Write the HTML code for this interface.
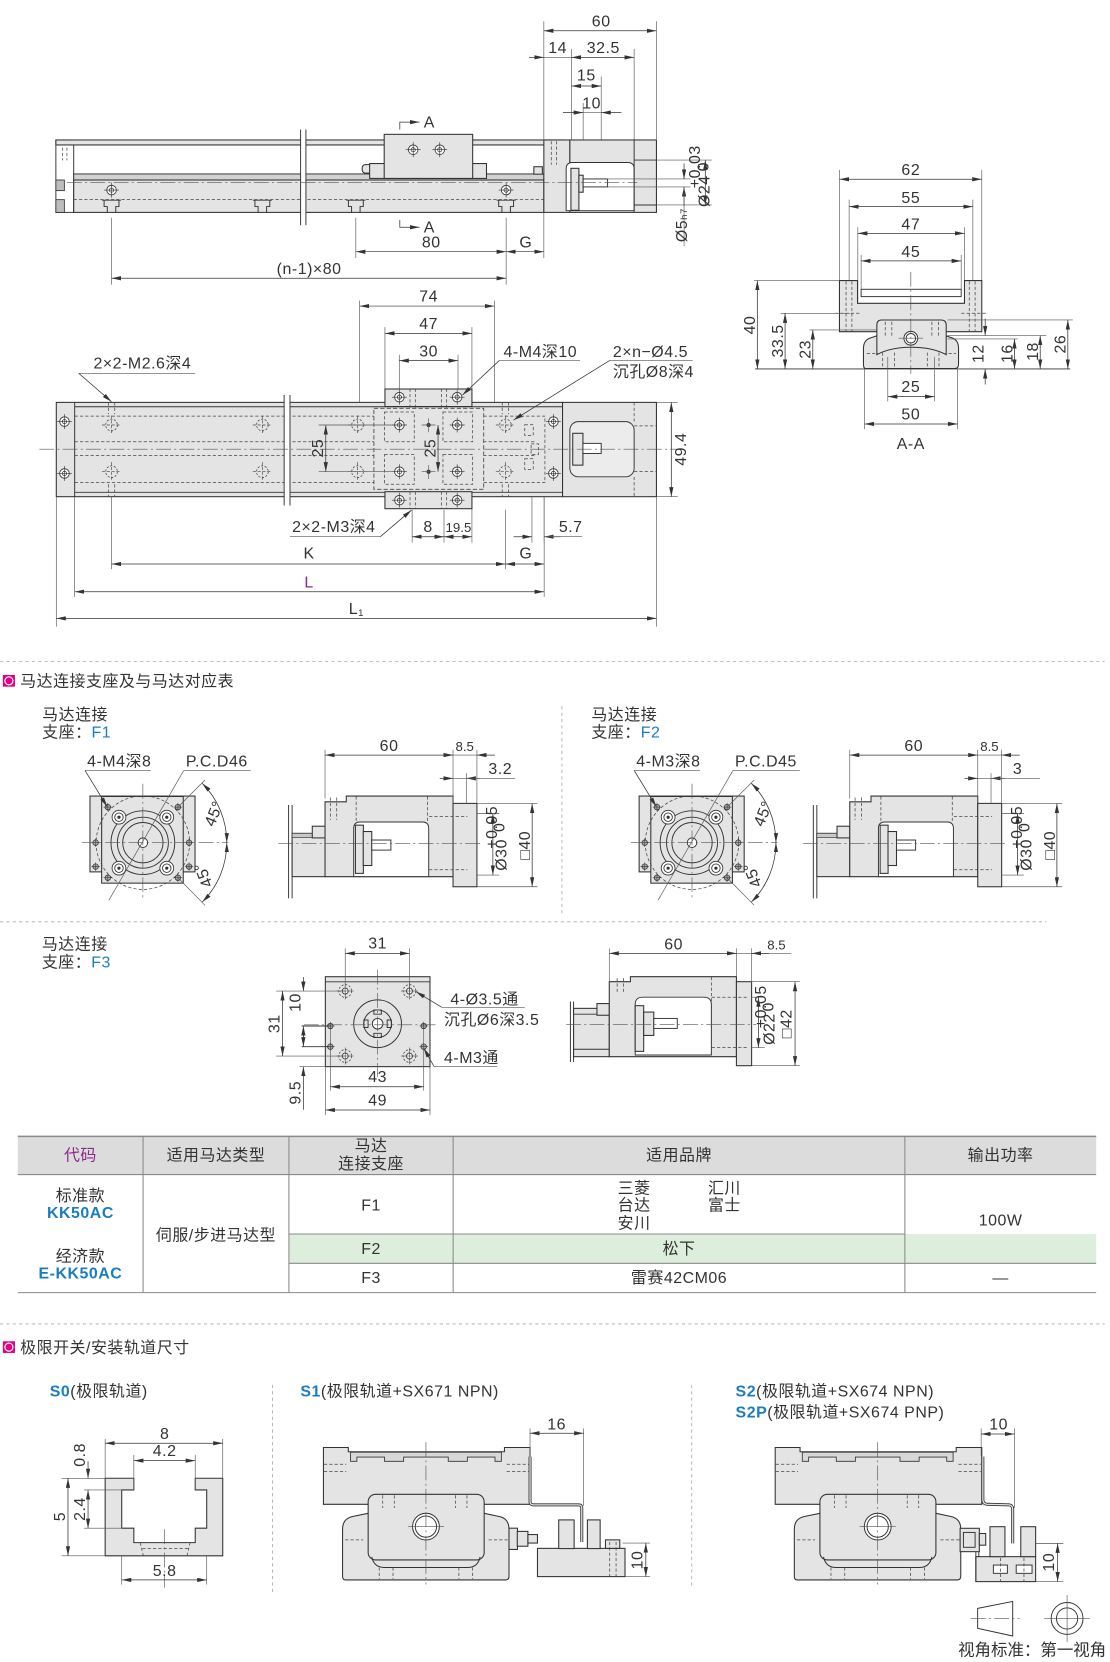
<!DOCTYPE html>
<html><head><meta charset="utf-8"><style>
html,body{margin:0;padding:0;background:#fff}
svg{display:block}
.p{fill:#e4e4e4;stroke:#333;stroke-width:1}
.w{fill:#fff;stroke:#333;stroke-width:.9}
.l{fill:none;stroke:#333;stroke-width:.9}
.e{fill:none;stroke:#555;stroke-width:.6}
.h{fill:none;stroke:#444;stroke-width:.7;stroke-dasharray:3 2}
.c{fill:none;stroke:#555;stroke-width:.6;stroke-dasharray:14 3 2 3}
.d{fill:none;stroke:#333;stroke-width:.7;marker-start:url(#a);marker-end:url(#a)}
.d1{fill:none;stroke:#333;stroke-width:.7;marker-end:url(#a)}
.sep{fill:none;stroke:#aaa;stroke-width:.8;stroke-dasharray:3 3}
text{font-family:"Liberation Sans","Noto Sans CJK SC",sans-serif;font-size:15px;letter-spacing:.5px;fill:#333}
.m{text-anchor:middle}
.s{font-size:12.5px;letter-spacing:0}
.b{fill:#1a7dc0}
</style></head><body>
<svg width="1110" height="1662" viewBox="0 0 1045 1565" preserveAspectRatio="none" xmlns="http://www.w3.org/2000/svg">
<defs>
<marker id="a" viewBox="0 0 9 4" refX="9" refY="2" markerWidth="9" markerHeight="4" markerUnits="userSpaceOnUse" orient="auto-start-reverse"><path d="M0,0L9,2L0,4z" fill="#333"/></marker>
<g id="bh"><circle r="4.5" fill="#fff" stroke="#333" stroke-width=".8"/><circle r="2" fill="none" stroke="#333" stroke-width=".7"/><path d="M-7,0H7M0,-7V7" stroke="#333" stroke-width=".6"/></g>
<g id="hh"><circle r="5.5" fill="none" stroke="#444" stroke-width=".7" stroke-dasharray="2 1.5"/><path d="M-9,0H9M0,-9V9" stroke="#444" stroke-width=".6" stroke-dasharray="3 1.5"/></g>
<g id="cb"><circle r="6" fill="none" stroke="#444" stroke-width=".7" stroke-dasharray="2 1.5"/><circle r="2.8" fill="#fff" stroke="#333" stroke-width=".8"/><path d="M-8,0H8M0,-8V8" stroke="#333" stroke-width=".5"/></g>
<g id="sh"><circle r="2.6" fill="#aaa" stroke="#333" stroke-width=".7"/><path d="M-4,0H4M0,-4V4" stroke="#333" stroke-width=".5"/></g>
<g id="cp"><circle r="6.5" fill="#fff" stroke="#333" stroke-width=".8"/><circle r="4" fill="none" stroke="#333" stroke-width=".8"/><circle r="1.5" fill="#333"/></g>
</defs>

<!-- ================= SIDE VIEW ================= -->
<path class="e" d="M512,20V131 M618,20V131 M597,46V153 M538,46V158 M566,72V168 M549,97V168"/>
<path class="d" d="M512,29H618"/><text class="m" x="566" y="25">60</text>
<path class="d1" d="M498,54H512"/><path class="e" d="M512,54H538"/><path class="d" d="M538,54H597"/>
<text class="m" x="525" y="50">14</text><text class="m" x="568" y="50">32.5</text>
<path class="d" d="M538,81H566"/><text class="m" x="552" y="76">15</text>
<path class="d1" d="M530,106H549"/><path class="d1" d="M585,106H566"/><path class="e" d="M549,106H566"/>
<text class="m" x="557" y="102">10</text>

<rect class="w" x="52.6" y="131.8" width="16.8" height="68.2"/>
<rect x="52.6" y="169.5" width="8" height="10" fill="#bdbdbd" stroke="#333" stroke-width=".8"/>
<rect x="52.6" y="188" width="8" height="12" fill="#bdbdbd" stroke="#333" stroke-width=".8"/>
<path class="h" d="M59,134V151 M63,134V151"/>
<rect class="p" x="52.6" y="131.8" width="479" height="4.7"/>
<rect x="69.4" y="163.8" width="442.6" height="5.7" fill="#d2d2d2" stroke="#333" stroke-width=".9"/>
<rect class="p" x="69.4" y="169.5" width="442.6" height="30.5"/>
<rect class="p" x="341" y="155" width="10" height="8" rx="3"/>
<rect class="p" x="348" y="154" width="110" height="14"/>
<rect class="p" x="361.7" y="126.5" width="83.3" height="41.5"/>
<rect class="p" x="502.6" y="157" width="8" height="7"/>
<use href="#bh" x="389" y="141"/><use href="#bh" x="414" y="141"/>
<path class="h" d="M69.4,188H512"/>
<use href="#bh" x="105" y="179"/><use href="#bh" x="476.5" y="179"/>
<path class="l" d="M96,188.5h18M98,188.5v6h3v5.5M112,188.5v6h-3v5.5 M238,188.5h18M240,188.5v6h3v5.5M254,188.5v6h-3v5.5 M326,188.5h18M328,188.5v6h3v5.5M342,188.5v6h-3v5.5 M467.5,188.5h18M469.5,188.5v6h3v5.5M483.5,188.5v6h-3v5.5" stroke-width=".7"/>
<rect x="283" y="124" width="5" height="82" fill="#fff"/>
<path class="l" d="M283,122V212 M288,122V212"/>
<rect class="p" x="512" y="131.8" width="24.5" height="68.2"/>
<path class="h" d="M519,133V155 M524,133V155"/>
<rect class="p" x="536.5" y="131.8" width="81.5" height="68.2"/>
<path class="w" d="M533,198.4V159Q533,153 539,153H591Q597,153 597,159V198.4Z"/>
<path class="l" d="M597,131.8V200 M597,150.7H618 M597,193H618"/>
<rect class="p" x="537.5" y="158.5" width="7.5" height="39.5"/>
<rect class="p" x="545" y="165" width="4" height="16"/>
<rect class="w" x="549" y="168.5" width="23" height="7.5"/>
<path class="c" d="M63,172H600"/>
<path class="e" d="M572,168.5H650 M572,176H650 M618,150.7H670 M618,193H670"/>
<path class="d1" d="M644,154V168.5"/><path class="d1" d="M644,194V176"/><path class="e" d="M644,176V232"/>
<text class="m" transform="translate(647,212) rotate(-90)">Ø5<tspan font-size="9">h7</tspan></text>
<path class="d" d="M664,150.7V193"/>
<text class="m" transform="translate(668,180) rotate(-90)" font-size="12.5">Ø24</text>
<text class="m" transform="translate(659,157) rotate(-90)" font-size="6.5" letter-spacing="0">+0.03</text>
<text class="m" transform="translate(667,157) rotate(-90)" font-size="6.5">0</text>
<path class="d1" d="M376.4,122V115H395"/><text x="399" y="120">A</text>
<path class="d1" d="M376.4,207V214H395"/><text x="399" y="219">A</text>
<path class="e" d="M105,205V268 M335,205V243 M476.5,205V268 M512,200V243"/>
<path class="d" d="M335,237H476.5"/><text class="m" x="406" y="233">80</text>
<path class="d" d="M476.5,237H512"/><text class="m" x="495" y="233">G</text>
<path class="d" d="M105,262H476.5"/><text class="m" x="291" y="258">(n-1)×80</text>

<!-- ================= TOP VIEW ================= -->
<path class="e" d="M338.6,283V412 M465.4,283V412 M362.4,308V366 M444.3,308V366 M375.9,334V366 M431.2,334V366"/>
<path class="d" d="M338.6,288.2H465.4"/><text class="m" x="403.5" y="284">74</text>
<path class="d" d="M362.4,313.9H444.3"/><text class="m" x="403.5" y="310">47</text>
<path class="d" d="M375.9,339.6H431.2"/><text class="m" x="403.5" y="335.5">30</text>

<rect class="p" x="53" y="378.9" width="476.6" height="88.8"/>
<path class="l" d="M70.3,383H529.6 M70.3,463.6H529.6 M70.3,378.9V467.7" stroke-width=".8"/>
<rect class="h" x="70.3" y="391.8" width="442.7" height="62.7"/>
<path class="h" d="M70.3,416H352 M70.3,429H352 M455,416H505 M455,429H505"/>
<use href="#bh" x="60.7" y="397"/><use href="#bh" x="60.7" y="445.8"/>
<use href="#bh" x="521" y="397"/><use href="#bh" x="521" y="445.8"/>
<use href="#hh" x="105" y="400.2"/><use href="#hh" x="105" y="444.2"/>
<use href="#hh" x="247" y="400.2"/><use href="#hh" x="247" y="444.2"/>
<use href="#hh" x="336.6" y="400.2"/><use href="#hh" x="336.6" y="444.2"/>
<use href="#hh" x="475.8" y="400.2"/><use href="#hh" x="475.8" y="444.2"/>
<path class="h" d="M102,378.9V390 M108,378.9V390 M102,456V467.7 M108,456V467.7 M472.8,378.9V390 M478.8,378.9V390 M472.8,456V467.7 M478.8,456V467.7"/>
<rect class="h" x="494" y="400" width="8" height="10"/><rect class="h" x="494" y="432" width="8" height="10"/><rect class="h" x="500" y="418" width="7" height="10"/>
<rect x="267.5" y="372" width="5.5" height="104" fill="#fff"/>
<path class="l" d="M267.5,372V476 M273,372V476"/>
<rect class="p" x="529.6" y="378.9" width="88.4" height="88.8"/>
<rect x="536.5" y="397" width="60.5" height="52" rx="8" fill="#ececec" stroke="#333" stroke-width=".9"/>
<path class="h" d="M597,378.9V397 M597,449V467.7 M597,401H618 M597,444H618"/>
<rect class="p" x="539.2" y="408" width="9.6" height="30"/>
<rect class="w" x="548.8" y="417.5" width="17.2" height="9.5"/>
<rect x="352" y="384.5" width="103.4" height="76.3" fill="#e4e4e4" stroke="#444" stroke-width=".8" stroke-dasharray="4 2"/>
<rect class="h" x="362" y="388" width="28" height="28"/><rect class="h" x="417" y="388" width="28" height="28"/>
<rect class="h" x="362" y="428" width="28" height="28"/><rect class="h" x="417" y="428" width="28" height="28"/>
<rect class="p" x="362.4" y="366.3" width="81.9" height="16.5"/>
<rect class="p" x="362.4" y="463" width="81.9" height="16"/>
<path class="h" d="M386,366V384 M391,366V384 M415.5,366V384 M420.5,366V384 M386,463V479 M391,463V479 M415.5,463V479 M420.5,463V479"/>
<use href="#bh" x="376" y="374"/><use href="#bh" x="430.4" y="374"/>
<use href="#bh" x="376" y="471"/><use href="#bh" x="430.4" y="471"/>
<use href="#bh" x="376" y="400.2"/><use href="#bh" x="430.4" y="400.2"/>
<use href="#bh" x="376" y="444.2"/><use href="#bh" x="430.4" y="444.2"/>
<circle cx="403.5" cy="400.2" r="2" fill="#333"/><circle cx="403.5" cy="444.2" r="2" fill="#333"/>
<path class="e" d="M397,400.2H410M403.5,394V407 M397,444.2H410M403.5,438V451"/>
<path class="c" d="M37,423H640"/>
<path class="e" d="M300,400.2H370 M300,444.2H370"/>
<path class="d" d="M306.7,400.2V444.2"/><text class="m" transform="translate(304,422) rotate(-90)">25</text>
<path class="d" d="M412.4,400.2V444.2"/><text class="m" transform="translate(410,422) rotate(-90)">25</text>
<path class="e" d="M618,378.9H638 M618,467.7H638"/>
<path class="d" d="M632,378.9V467.7"/><text class="m" transform="translate(646,423) rotate(-90)">49.4</text>
<text x="88" y="347">2×2-M2.6深4</text>
<path class="e" d="M74.2,351.6H183.7"/><path class="d1" d="M74.2,351.6L105,378.3"/>
<text x="474" y="336">4-M4深10</text>
<path class="e" d="M470,339.5H546"/><path class="d1" d="M470,339.5L435.4,372"/>
<text x="577" y="336">2×n−Ø4.5</text>
<text x="577" y="355">沉孔Ø8深4</text>
<path class="e" d="M573.8,339.5H652"/><path class="d1" d="M573.8,339.5L483.5,395.5"/>
<text x="275" y="501">2×2-M3深4</text>
<path class="e" d="M273,505.4H358"/><path class="d1" d="M358,505.4L387.4,480.3"/>
<path class="e" d="M388,480V511 M418,480V511 M444.3,479V511 M500.8,468V511 M512.3,468V511"/>
<path class="d" d="M388,505.4H418"/><text class="m" x="403" y="501">8</text>
<path class="d" d="M418,505.4H444.3"/><text class="m s" x="431.6" y="501">19.5</text>
<path class="d1" d="M483.5,505.4H500.8"/><path class="d1" d="M527.7,505.4H512.3"/><path class="e" d="M512.3,505.4H548"/>
<text class="m" x="537.3" y="501">5.7</text>
<path class="e" d="M53,468V590 M70.3,468V562 M105,468V536 M475.8,480V536 M512.3,468V562 M618,468V590"/>
<path class="d" d="M105,531.1H475.8"/><text class="m" x="291" y="526">K</text>
<path class="d" d="M475.8,531.1H512.3"/><text class="m" x="495" y="526">G</text>
<path class="d" d="M70.3,557.2H512.3"/><text class="m" x="291" y="553" style="fill:#8b2a8b">L</text>
<path class="d" d="M53,582.3H618"/><text class="m" x="335.5" y="578">L<tspan font-size="9" dy="2">1</tspan></text>

<!-- ================= A-A VIEW ================= -->
<path class="e" d="M790.3,160V264 M924.3,160V264 M799.4,188V264 M915.9,188V264 M807.6,214V286 M908,214V286 M810.7,240V273 M904.9,240V273"/>
<path class="d" d="M790.3,168.8H924.3"/><text class="m" x="857.5" y="165">62</text>
<path class="d" d="M799.4,194.6H915.9"/><text class="m" x="857.5" y="191">55</text>
<path class="d" d="M807.6,219.7H908"/><text class="m" x="857.5" y="216">47</text>
<path class="d" d="M810.7,245.7H904.9"/><text class="m" x="857.5" y="242">45</text>
<path class="p" d="M790.3,264.2H807.3V285.6H908V264.2H924.3V312.3H790.3Z"/>
<rect class="w" x="810.7" y="272.4" width="94.2" height="6.9"/>
<path class="h" d="M796.5,265V312 M802,265V312 M912.5,265V312 M918,265V312 M786,295H810 M905,295H929"/>
<path class="p" d="M815,347Q812.9,347 812.9,343V328Q812.9,320 820,318L828,315.4H888L896,318Q902.4,320 902.4,328V343Q902.4,347 899,347Z"/>
<path class="p" d="M825.5,334V306Q825.5,301.3 830,301.3H886Q890.8,301.3 890.8,306V334Q878,327 858,327Q838,327 825.5,334Z"/>
<path class="h" d="M833.4,303V316 M839.6,303V316 M877.3,303V316 M883.6,303V316 M831,332V347 M842,332V347 M873,332V347 M884,332V347 M816,333H828 M888,333H900"/>
<circle class="w" cx="857.5" cy="318.5" r="6.5"/><circle class="l" cx="857.5" cy="318.5" r="4.5"/>
<path class="e" d="M846,318.5H869"/>
<path class="c" d="M857.5,256V352"/>
<path class="l" d="M710.9,347.4H1007.5" stroke-width=".7"/>
<path class="e" d="M710,264.2H790.3 M735,295H800 M762,310.7H825"/>
<path class="d" d="M713,264.2V347.4"/><text class="m" transform="translate(711,306) rotate(-90)">40</text>
<path class="d" d="M739.1,295V347.4"/><text class="m" transform="translate(737,321) rotate(-90)">33.5</text>
<path class="d" d="M765.2,310.7V347.4"/><text class="m" transform="translate(763,329) rotate(-90)">23</text>
<path class="e" d="M892,301.3H1010 M892,316H985 M892,319.2H958"/>
<path class="d1" d="M927.5,300V316"/><path class="d1" d="M927.5,362V347.4"/>
<text class="m" transform="translate(926,333) rotate(-90)">12</text>
<path class="d" d="M955.1,319.2V347.4"/><text class="m" transform="translate(953,333) rotate(-90)">16</text>
<path class="d" d="M979.3,316V347.4"/><text class="m" transform="translate(977,331) rotate(-90)">18</text>
<path class="d" d="M1005.3,301.3V347.4"/><text class="m" transform="translate(1003,324) rotate(-90)">26</text>
<path class="e" d="M835.8,336V378 M879.8,336V378 M813.9,347V404 M901.5,347V404"/>
<path class="d" d="M835.8,373.5H879.8"/><text class="m" x="857.5" y="369">25</text>
<path class="d" d="M813.9,399.2H901.5"/><text class="m" x="857.5" y="395">50</text>
<text class="m" x="857.5" y="423">A-A</text>

<!-- ================= SECTION HEADER 1 ================= -->
<path class="sep" d="M0,623H1040"/>
<rect x="2.7" y="635.6" width="11.4" height="11" fill="#e4007f"/><circle cx="8.4" cy="641.1" r="3.8" fill="none" stroke="#fff" stroke-width="1.1"/>
<text x="19" y="646.5">马达连接支座及与马达对应表</text>

<!-- F1 labels -->
<text x="39.7" y="678">马达连接</text>
<text x="39.7" y="694.5">支座：<tspan class="b">F1</tspan></text>
<!-- F1 front -->
<g id="ff">
<rect class="p" x="84.7" y="749.6" width="98.9" height="71.4"/>
<rect class="p" x="95.7" y="750" width="76.8" height="81.6"/>
<circle class="h" cx="134.5" cy="793.5" r="44"/>
<circle class="l" cx="134.5" cy="793.5" r="30" stroke-width=".7"/>
<circle class="l" cx="134.5" cy="793.5" r="24"/>
<circle class="l" cx="134.5" cy="793.5" r="19"/>
<circle class="w" cx="134.5" cy="793.5" r="4.5"/>
<use href="#cp" x="112" y="769.5"/><use href="#cp" x="157" y="769.5"/>
<use href="#cp" x="112" y="817.5"/><use href="#cp" x="157" y="817.5"/>
<use href="#sh" x="101.5" y="760"/><use href="#sh" x="167.5" y="760"/>
<use href="#sh" x="101.5" y="826.5"/><use href="#sh" x="167.5" y="826.5"/>
<use href="#sh" x="90" y="793.5"/><use href="#sh" x="178" y="793.5"/>
<use href="#sh" x="90" y="816"/><use href="#sh" x="178" y="816"/>
<path class="c" d="M77,793.5H215 M134.5,738V848"/>
<path class="d" d="M190.4,737.6A79,79 0 0 1 213.5,793.5"/>
<path class="d" d="M213.5,793.5A79,79 0 0 1 190.4,849.4"/>
<path class="e" d="M167.5,760L193,734.5 M167.5,826.5L193,852.5"/>
<path class="e" d="M173,725.5L102.6,847.5"/>
<path class="d1" d="M80,725.5L100.9,759.6"/>
</g>
<path class="e" d="M80,725.5H142 M173,725.5H236"/>
<text x="82" y="722">4-M4深8</text>
<text x="175" y="722">P.C.D46</text>
<text class="m" transform="translate(206,768) rotate(-68)">45°</text>
<text class="m" transform="translate(196,822) rotate(-112)">45°</text>
<!-- F1 side -->
<g id="fs">
<path class="l" d="M271.7,758V846 M275,758V846"/>
<rect class="p" x="275" y="784.7" width="31" height="40.8"/>
<rect x="275" y="784.7" width="31" height="4" fill="#c8c8c8" stroke="#333" stroke-width=".6"/>
<rect class="p" x="294" y="778" width="12" height="11"/>
<path class="p" d="M306,755H326V749.6H426.5V825.5H306Z"/>
<path class="w" d="M333,825.5V780Q333,774 339,774H397.6Q403.6,774 403.6,780V825.5Z"/>
<rect class="p" x="334.6" y="777" width="7.5" height="45.4"/>
<rect class="p" x="342" y="783" width="8" height="32"/>
<rect class="w" x="350" y="791" width="18" height="9.5"/>
<rect class="p" x="426.5" y="756.5" width="22.5" height="78.5"/>
<path class="h" d="M335.3,750V774 M402.5,750V774 M404,769H440 M404,819H440 M311,751V772 M317,751V772"/>
<path class="c" d="M262,794.2H455"/>
<path class="e" d="M306,706V752 M426.5,706V756 M449,706V756 M439,728V756 M449,765.9H470 M449,824H470 M449,756.5H506 M449,835H506"/>
<path class="d" d="M306,711H426.5"/>
<path class="e" d="M426.5,711H449"/><path class="d1" d="M466,711H449"/>
<path class="d1" d="M414,732.9H426.5"/><path class="d1" d="M452,732.9H439"/><path class="e" d="M426.5,732.9H485"/>
<path class="d" d="M464,765.9V824"/>
<path class="d" d="M501,756.5V835"/>
</g>
<text class="m" x="366.3" y="707">60</text>
<text class="m s" x="437.5" y="707">8.5</text>
<text class="m" x="471" y="729">3.2</text>
<text class="m" transform="translate(477,805) rotate(-90)">Ø30</text>
<text class="m" transform="translate(468,779) rotate(-90)" font-size="6.5" letter-spacing="0">+0.05</text>
<text class="m" transform="translate(475,779) rotate(-90)" font-size="6.5">0</text>
<text class="m" transform="translate(499,796) rotate(-90)">□40</text>

<path class="sep" d="M529,665V862"/>

<!-- F2 -->
<text x="556.7" y="678">马达连接</text>
<text x="556.7" y="694.5">支座：<tspan class="b">F2</tspan></text>
<use href="#ff" transform="translate(517,0)"/>
<path class="e" d="M597,725.5H659 M690,725.5H753"/>
<text x="599" y="722">4-M3深8</text>
<text x="692" y="722">P.C.D45</text>
<text class="m" transform="translate(723,768) rotate(-68)">45°</text>
<text class="m" transform="translate(713,822) rotate(-112)">45°</text>
<use href="#fs" transform="translate(494,0)"/>
<text class="m" x="860.3" y="707">60</text>
<text class="m s" x="931.5" y="707">8.5</text>
<text class="m" x="958" y="729">3</text>
<text class="m" transform="translate(971,805) rotate(-90)">Ø30</text>
<text class="m" transform="translate(962,779) rotate(-90)" font-size="6.5" letter-spacing="0">+0.05</text>
<text class="m" transform="translate(969,779) rotate(-90)" font-size="6.5">0</text>
<text class="m" transform="translate(993,796) rotate(-90)">□40</text>

<path class="sep" d="M0,868H985"/>

<!-- F3 -->
<text x="39.4" y="894">马达连接</text>
<text x="39.4" y="911">支座：<tspan class="b">F3</tspan></text>
<rect class="p" x="306.3" y="919.7" width="98.5" height="84.7"/>
<path class="l" d="M306.3,924.5H404.8" stroke-width=".5"/>
<circle class="l" cx="355.5" cy="964" r="22.5"/>
<circle class="l" cx="355.5" cy="964" r="13"/>
<circle class="w" cx="355.5" cy="964" r="5"/>
<path class="l" d="M352,951h7v4h-7z M352,973h7v4h-7z M342.5,960.5h4v7h-4z M364.5,960.5h4v7h-4z" stroke-width=".7"/>
<use href="#cb" x="325" y="933.2"/><use href="#cb" x="385.5" y="933.2"/>
<use href="#cb" x="325" y="994.4"/><use href="#cb" x="385.5" y="994.4"/>
<use href="#sh" x="311" y="966.1"/><use href="#sh" x="398.9" y="966.1"/>
<use href="#sh" x="311" y="985.6"/><use href="#sh" x="398.9" y="985.6"/>
<path class="c" d="M355.5,913V1014 M286,965H412"/>
<path class="e" d="M325,893V935 M385.5,893V935"/>
<path class="d" d="M325,897.7H385.5"/><text class="m" x="355.5" y="893">31</text>
<path class="e" d="M260,933.2H325 M260,994.4H325 M282,1004.4H306"/>
<path class="l" d="M284,966.1H310 M284,985.6H310" stroke-width="1.3"/>
<path class="d" d="M266,933.2V994.4"/><text class="m" transform="translate(263,964) rotate(-90)">31</text>
<path class="d1" d="M285.6,920V933.2"/><path class="d1" d="M285.6,980V966.1"/>
<text class="m" transform="translate(283,944) rotate(-90)">10</text>
<path class="d1" d="M285.6,1045V1004.4"/><path class="d1" d="M285.6,975V985.6"/>
<text class="m" transform="translate(283,1029) rotate(-90)">9.5</text>
<path class="e" d="M311,970V1027 M398.9,970V1027 M306.3,1004V1050 M404.8,1004V1050"/>
<path class="d" d="M311,1023.3H398.9"/><text class="m" x="355.5" y="1019">43</text>
<path class="d" d="M306.3,1045.2H404.8"/><text class="m" x="355.5" y="1041">49</text>
<text x="424" y="946">4-Ø3.5通</text>
<text x="418" y="965">沉孔Ø6深3.5</text>
<path class="e" d="M416,948.5H494"/><path class="d1" d="M416,948.5L391.5,933.8"/>
<text x="418" y="1001">4-M3通</text>
<path class="e" d="M408.7,1004.4H468"/><path class="d1" d="M408.7,1004.4L398.9,987"/>
<!-- F3 side -->
<path class="l" d="M537,943V1000 M540,943V1000"/>
<rect class="p" x="540" y="949.5" width="33.6" height="45.5"/>
<path class="l" d="M540,955H573.6 M540,988H573.6" stroke-width=".5"/>
<rect class="p" x="562" y="945" width="11.6" height="11"/>
<path class="p" d="M573.6,924.4H593.5V919.7H693.3V995H573.6Z"/>
<path class="w" d="M598,993.4V946Q598,939 605,939H662.7Q669.7,939 669.7,946V993.4Z"/>
<rect class="p" x="598" y="947" width="8" height="43"/>
<rect class="p" x="606" y="953" width="9.5" height="22"/>
<rect class="w" x="615.5" y="959" width="22.1" height="9.4"/>
<rect class="p" x="693.3" y="924.4" width="14.3" height="79.1"/>
<path class="h" d="M669.7,920V995 M670,939H705 M670,986.5H705 M581,921V936 M587,921V936"/>
<path class="c" d="M533,964.6H712"/>
<path class="e" d="M573.6,893V925 M693.3,893V920 M707.6,893V925 M707.6,939H720 M707.6,986.5H720 M707.6,924.4H753 M707.6,1003.5H753"/>
<path class="d" d="M573.6,897.7H693.3"/><text class="m" x="634.2" y="894">60</text>
<path class="e" d="M693.3,897.7H745"/><path class="d1" d="M724,897.7H707.6"/>
<text class="m s" x="731" y="894">8.5</text>
<path class="d" d="M714,939V986.5"/>
<text class="m" transform="translate(729,969) rotate(-90)" font-size="12.5">Ø22</text>
<text class="m" transform="translate(721,948) rotate(-90)" font-size="6.5" letter-spacing="0">+0.05</text>
<text class="m" transform="translate(728,948) rotate(-90)" font-size="6.5">0</text>
<path class="d" d="M748.5,924.4V1003.5"/>
<text class="m" transform="translate(745,964) rotate(-90)">□42</text>

<!-- ================= TABLE ================= -->
<rect x="16.7" y="1070" width="1015.3" height="36" fill="#dcdcdc"/>
<rect x="272" y="1162" width="760" height="27.6" fill="#ddefdc"/>
<path d="M16.7,1070H1032" stroke="#8a8a8a" stroke-width="1.4"/>
<path d="M16.7,1106H1032 M16.7,1217.2H1032 M272,1162H851.9 M272,1189.6H1032 M134.7,1070V1217.2 M272,1070V1217.2 M426.6,1070V1217.2 M851.9,1070V1217.2" stroke="#8a8a8a" stroke-width="1" fill="none"/>
<text class="m" x="75.7" y="1093" style="fill:#8b2a8b">代码</text>
<text class="m" x="203.3" y="1093">适用马达类型</text>
<text class="m" x="349.3" y="1084">马达</text>
<text class="m" x="349.3" y="1101">连接支座</text>
<text class="m" x="639.3" y="1093">适用品牌</text>
<text class="m" x="942" y="1093">输出功率</text>
<text class="m" x="75.7" y="1131">标准款</text>
<text class="m b" x="75.7" y="1147" font-weight="bold">KK50AC</text>
<text class="m" x="75.7" y="1188">经济款</text>
<text class="m b" x="75.7" y="1204" font-weight="bold">E-KK50AC</text>
<text class="m" x="203.3" y="1168">伺服/步进马达型</text>
<text class="m" x="349.3" y="1140">F1</text>
<text class="m" x="349.3" y="1181">F2</text>
<text class="m" x="349.3" y="1208">F3</text>
<text class="m" x="597" y="1124">三菱</text><text class="m" x="682" y="1124">汇川</text>
<text class="m" x="597" y="1140">台达</text><text class="m" x="682" y="1140">富士</text>
<text class="m" x="597" y="1157">安川</text>
<text class="m" x="639.3" y="1181">松下</text>
<text class="m" x="639.3" y="1208">雷赛42CM06</text>
<text class="m" x="942" y="1154">100W</text>
<text class="m" x="942" y="1208">—</text>

<!-- ================= SECTION HEADER 2 ================= -->
<path class="sep" d="M0,1246.7H1040"/>
<rect x="2.7" y="1263" width="11.4" height="11" fill="#e4007f"/><circle cx="8.4" cy="1268.5" r="3.8" fill="none" stroke="#fff" stroke-width="1.1"/>
<text x="19" y="1274">极限开关/安装轨道尺寸</text>
<path class="sep" d="M256.5,1304V1502 M651.2,1304V1494"/>

<!-- S0 -->
<text x="46.8" y="1315"><tspan class="b" font-weight="bold">S0</tspan>(极限轨道)</text>
<path class="p" d="M99,1392H126V1403H114.6V1439H126V1452.6H183.8V1439H194.6V1403H183.8V1392H209.7V1465H99Z"/>
<path class="h" d="M132,1452.6L135,1465 M176,1465L179,1452.6 M134,1458H177"/>
<path class="c" d="M155,1440V1495"/>
<path class="e" d="M99,1355V1392 M209.7,1355V1392 M126,1370V1403 M183.8,1370V1403 M114.6,1465V1492 M194.6,1465V1492"/>
<path class="d" d="M99,1359H209.7"/><text class="m" x="155" y="1355">8</text>
<path class="d" d="M126,1375.4H183.8"/><text class="m" x="155" y="1371">4.2</text>
<path class="d" d="M114.6,1487.7H194.6"/><text class="m" x="155" y="1484">5.8</text>
<path class="e" d="M58,1392H99 M79,1403H114.6 M79,1439H114.6 M58,1465H99"/>
<path class="d1" d="M82.9,1376V1392"/><path class="d" d="M82.9,1403V1439"/>
<text class="m" transform="translate(80,1370) rotate(-90)">0.8</text>
<text class="m" transform="translate(80,1421) rotate(-90)">2.4</text>
<path class="d" d="M64,1392V1465"/><text class="m" transform="translate(61,1428) rotate(-90)">5</text>

<!-- S1 -->
<text x="282.8" y="1315"><tspan class="b" font-weight="bold">S1</tspan>(极限轨道+SX671 NPN)</text>
<g id="rl">
<path class="p" d="M304.5,1363H327.9V1367H474.9V1363H499V1416.5H304.5Z"/>
<path d="M330,1376V1367.5H472V1376H466V1372H440V1376H422V1372H380V1376H362V1372H336V1376Z" fill="#d8d8d8" stroke="#333" stroke-width=".8"/>
<path class="h" d="M305,1378.8H326 M305,1385.7H326 M477,1378.8H498 M477,1385.7H498"/>
<path class="p" d="M325,1487.7Q322.5,1487.7 322.5,1484V1440Q322.5,1430 332,1428L346.6,1425H455.8L470,1428Q479.2,1430 479.2,1440V1484Q479.2,1487.7 476,1487.7Z"/>
<rect class="p" x="346.6" y="1407.1" width="109.2" height="61.8" rx="7"/>
<path class="l" d="M350,1466Q352,1476 362,1476H440Q450,1476 452,1466" stroke-width=".7"/>
<path class="h" d="M360.3,1408V1420 M371.2,1408V1420 M428.8,1408V1420 M439.6,1408V1420 M357,1476V1487 M370,1476V1487 M432,1476V1487 M445,1476V1487 M325,1450H342 M460,1450H478"/>
<circle class="w" cx="401" cy="1437.5" r="12.6"/><circle class="l" cx="401" cy="1437.5" r="10"/>
<path class="e" d="M384,1437.5H418"/>
<path class="c" d="M401,1358V1492"/>
</g>
<path d="M499,1371.6V1414Q499,1417 502,1417H544.7Q547.7,1417 547.7,1420V1452" fill="none" stroke="#333" stroke-width="2.8"/>
<path d="M499,1371.6V1414Q499,1417 502,1417H544.7Q547.7,1417 547.7,1420V1452" fill="none" stroke="#e4e4e4" stroke-width="1.2"/>
<rect class="p" x="479.2" y="1439" width="8" height="20"/>
<rect class="p" x="487" y="1442" width="10" height="14"/>
<rect class="p" x="497" y="1445" width="9" height="8"/>
<rect class="p" x="506" y="1458" width="82.4" height="26.6"/>
<rect class="p" x="526" y="1431.2" width="14.5" height="27"/>
<rect class="p" x="553" y="1431.2" width="12" height="27"/>
<rect class="p" x="570" y="1450" width="13.5" height="8"/>
<path class="h" d="M574,1452V1484 M580,1452V1484"/>
<path class="e" d="M499,1345V1371 M549.5,1345V1418"/>
<path class="d" d="M499,1349.6H549.5"/><text class="m" x="524" y="1346">16</text>
<path class="e" d="M586,1453H612 M588.4,1484.6H612"/>
<path class="d" d="M608,1453V1484.6"/><text class="m" transform="translate(605,1469) rotate(-90)">10</text>

<!-- S2 -->
<text x="692.5" y="1315"><tspan class="b" font-weight="bold">S2</tspan>(极限轨道+SX674 NPN)</text>
<text x="692.5" y="1335"><tspan class="b" font-weight="bold">S2P</tspan>(极限轨道+SX674 PNP)</text>
<use href="#rl" transform="translate(425.3,0)"/>
<path d="M925.3,1371.6V1412Q925.3,1416 929,1416.5L950,1417Q953.4,1417.5 953.4,1421V1453.3" fill="none" stroke="#333" stroke-width="2.8"/>
<path d="M925.3,1371.6V1412Q925.3,1416 929,1416.5L950,1417Q953.4,1417.5 953.4,1421V1453.3" fill="none" stroke="#e4e4e4" stroke-width="1.2"/>
<rect class="p" x="903.9" y="1439.1" width="18.1" height="22"/>
<rect class="l" x="907" y="1443" width="11" height="14"/>
<rect class="p" x="922" y="1444" width="6" height="11"/>
<rect class="p" x="918.7" y="1465.8" width="56.3" height="23.5"/>
<path class="l" d="M918.7,1461V1489.3 M921.5,1461V1466" stroke-width=".8"/>
<rect class="p" x="932" y="1437.6" width="14.1" height="28.2"/>
<rect class="p" x="961" y="1437.6" width="14" height="28.2"/>
<rect class="w" x="935.2" y="1473.7" width="13.2" height="7.8"/>
<rect class="w" x="956.7" y="1473.7" width="14.9" height="7.8"/>
<path class="h" d="M941.8,1467V1489 M964,1467V1489"/>
<path class="e" d="M923.7,1345V1371 M955,1345V1420"/>
<path class="d" d="M923.7,1350.3H955"/><text class="m" x="940.2" y="1346">10</text>
<path class="e" d="M975,1453.3H1001 M975,1489.3H1001"/>
<path class="d" d="M995.7,1453.3V1489.3"/><text class="m" transform="translate(992.5,1471) rotate(-90)">10</text>

<!-- view symbol -->
<polygon points="920.4,1514.5 953.4,1508 953.4,1540.5 920.4,1533.3" fill="#fff" stroke="#333" stroke-width=".9"/>
<path class="c" d="M914,1524H960"/>
<circle cx="1004.6" cy="1524" r="15" fill="none" stroke="#333" stroke-width=".9"/>
<circle cx="1004.6" cy="1524" r="10" fill="none" stroke="#333" stroke-width=".9"/>
<path class="e" d="M983,1524H1026 M1004.6,1502V1546"/>
<text x="902" y="1559" style="font-size:15.5px;letter-spacing:0">视角标准：第一视角</text>
</svg>
</body></html>
